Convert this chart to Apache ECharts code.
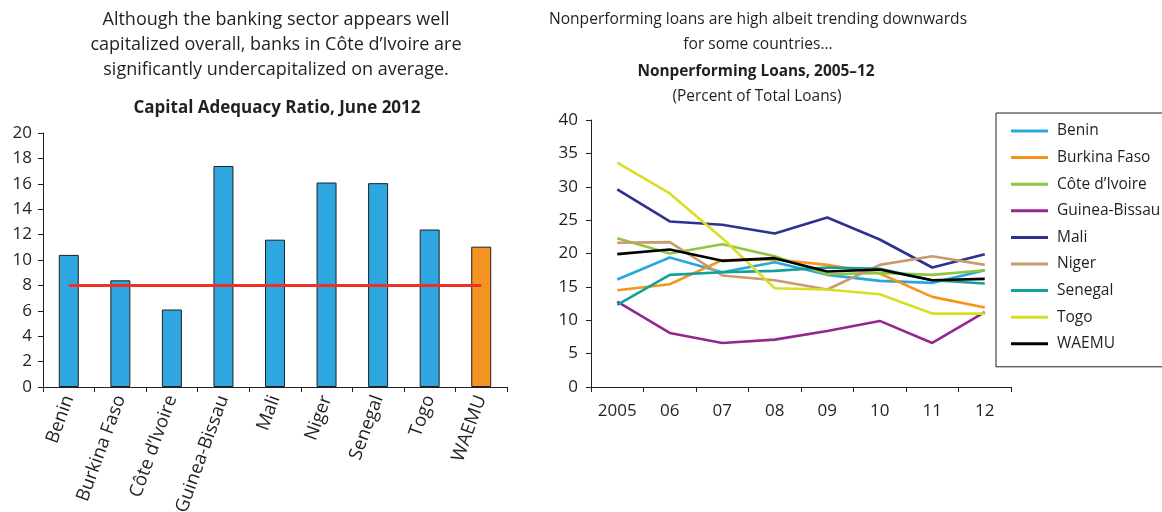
<!DOCTYPE html>
<html>
<head>
<meta charset="utf-8">
<title>WAEMU banking indicators</title>
<script src="https://cdn.jsdelivr.net/npm/echarts@6/dist/echarts.min.js"></script>
<style>
  html, body { margin: 0; padding: 0; background: #fff; }
  #chart { width: 1162px; height: 512px; }
</style>
</head>
<body>
<div id="chart"></div>
<script>
// Capital adequacy ratio, June 2012 (percent)
const carCountries = ['Benin', 'Burkina Faso', 'Côte d\u2019Ivoire', 'Guinea-Bissau', 'Mali', 'Niger', 'Senegal', 'Togo', 'WAEMU'];
const carValues = [10.4, 8.4, 6.1, 17.4, 11.6, 16.1, 16.05, 12.4, 11.05];
const carMinimum = 8;

// Nonperforming loans, 2005-12 (percent of total loans)
const nplYears = ['2005', '06', '07', '08', '09', '10', '11', '12'];
const nplBenin        = [16.1, 19.4, 17.2, 18.7, 16.8, 15.9, 15.6, 17.5];
const nplBurkinaFaso  = [14.5, 15.4, 19.0, 19.1, 18.3, 17.0, 13.5, 11.9];
const nplCoteDIvoire  = [22.3, 20.0, 21.4, 19.6, 16.9, 17.1, 16.8, 17.5];
const nplGuineaBissau = [12.8, 8.1, 6.6, 7.1, 8.4, 9.9, 6.6, 11.2];
const nplMali         = [29.6, 24.8, 24.3, 23.0, 25.4, 22.1, 17.9, 19.9];
const nplNiger        = [21.6, 21.7, 16.7, 16.0, 14.6, 18.3, 19.6, 18.3];
const nplSenegal      = [12.3, 16.8, 17.2, 17.4, 17.9, 17.7, 16.0, 15.5];
const nplTogo         = [33.6, 29.0, 22.3, 14.8, 14.6, 13.9, 11.0, 11.0];
const nplWAEMU        = [19.9, 20.6, 18.9, 19.3, 17.3, 17.6, 16.0, 16.2];

const FONT = 'Open Sans';
const INK = '#231F20';

const nplSeries = [
  { name: 'Benin', data: nplBenin, color: '#27A7DF' },
  { name: 'Burkina Faso', data: nplBurkinaFaso, color: '#F7941D' },
  { name: 'Côte d\u2019Ivoire', data: nplCoteDIvoire, color: '#8DC63F' },
  { name: 'Guinea-Bissau', data: nplGuineaBissau, color: '#93278F' },
  { name: 'Mali', data: nplMali, color: '#2E3192' },
  { name: 'Niger', data: nplNiger, color: '#C69C6D' },
  { name: 'Senegal', data: nplSenegal, color: '#12A19A' },
  { name: 'Togo', data: nplTogo, color: '#D7DF23' },
  { name: 'WAEMU', data: nplWAEMU, color: '#000000' }
];

const chart = echarts.init(document.getElementById('chart'));

function headline(text, x, y, size, bold) {
  return {
    type: 'text', x: x, y: y,
    style: {
      text: text, fill: INK, align: 'center', verticalAlign: 'middle',
      font: (bold ? 'bold ' : '') + size + 'px "' + FONT + '"'
    }
  };
}

const axisLine = { show: true, lineStyle: { color: INK, width: 1 } };
const axisTick = { show: true, length: 5, lineStyle: { color: INK, width: 1 } };
const axisLabel = { color: INK, fontFamily: FONT, fontSize: 17 };

chart.setOption({
  animation: false,
  textStyle: { fontFamily: FONT },
  graphic: [
    headline('Although the banking sector appears well', 276, 20, 18, false),
    headline('capitalized overall, banks in Côte d\u2019Ivoire are', 276, 45, 18, false),
    headline('significantly undercapitalized on average.', 276, 70, 18, false),
    headline('Capital Adequacy Ratio, June 2012', 277, 108, 17, true),
    headline('Nonperforming loans are high albeit trending downwards', 758, 20, 15.6, false),
    headline('for some countries...', 758, 45, 15.6, false),
    headline('Nonperforming Loans, 2005\u201312', 756, 72, 15.4, true),
    headline('(Percent of Total Loans)', 757, 97, 15.4, false)
  ],
  legend: {
    orient: 'vertical',
    left: 996,
    top: 113,
    data: nplSeries.map(s => s.name),
    selectedMode: false,
    icon: 'rect',
    itemWidth: 37,
    itemHeight: 3,
    itemGap: 8.6,
    padding: [9, 20, 14, 15],
    borderColor: INK,
    borderWidth: 1,
    textStyle: { color: INK, fontFamily: FONT, fontSize: 15.5, lineHeight: 18, padding: [0, 0, 0, 4] }
  },
  grid: [
    { left: 43, top: 133, width: 464, height: 254, containLabel: false, outerBoundsMode: 'none' },
    { left: 591, top: 120, width: 420, height: 267, containLabel: false, outerBoundsMode: 'none' }
  ],
  xAxis: [
    {
      type: 'category', gridIndex: 0, data: carCountries,
      axisLine: axisLine, axisTick: axisTick,
      axisLabel: Object.assign({}, axisLabel, { fontSize: 18.5, rotate: 70, margin: 9, interval: 0 })
    },
    {
      type: 'category', gridIndex: 1, data: nplYears,
      axisLine: axisLine, axisTick: axisTick,
      axisLabel: Object.assign({}, axisLabel, { margin: 16, interval: 0 })
    }
  ],
  yAxis: [
    {
      type: 'value', gridIndex: 0, min: 0, max: 20, interval: 2,
      axisLine: axisLine, axisTick: axisTick, splitLine: { show: false },
      axisLabel: Object.assign({}, axisLabel, { margin: 11 })
    },
    {
      type: 'value', gridIndex: 1, min: 0, max: 40, interval: 5,
      axisLine: axisLine, axisTick: axisTick, splitLine: { show: false },
      axisLabel: Object.assign({}, axisLabel, { margin: 13 })
    }
  ],
  series: [
    {
      type: 'bar', xAxisIndex: 0, yAxisIndex: 0, barWidth: 20,
      data: carValues.map((v, i) => ({
        value: v,
        itemStyle: { color: carCountries[i] === 'WAEMU' ? '#F39322' : '#2EA6DF' }
      })),
      itemStyle: { borderColor: INK, borderWidth: 1 }
    },
    {
      type: 'line', xAxisIndex: 0, yAxisIndex: 0,
      data: carCountries.map(() => carMinimum),
      symbol: 'none', lineStyle: { color: '#EE3124', width: 3 }, z: 5
    }
  ].concat(nplSeries.map(s => ({
    type: 'line', name: s.name, xAxisIndex: 1, yAxisIndex: 1,
    data: s.data, symbol: 'none', color: s.color,
    lineStyle: { color: s.color, width: 2.6 }
  })))
});
</script>
</body>
</html>
